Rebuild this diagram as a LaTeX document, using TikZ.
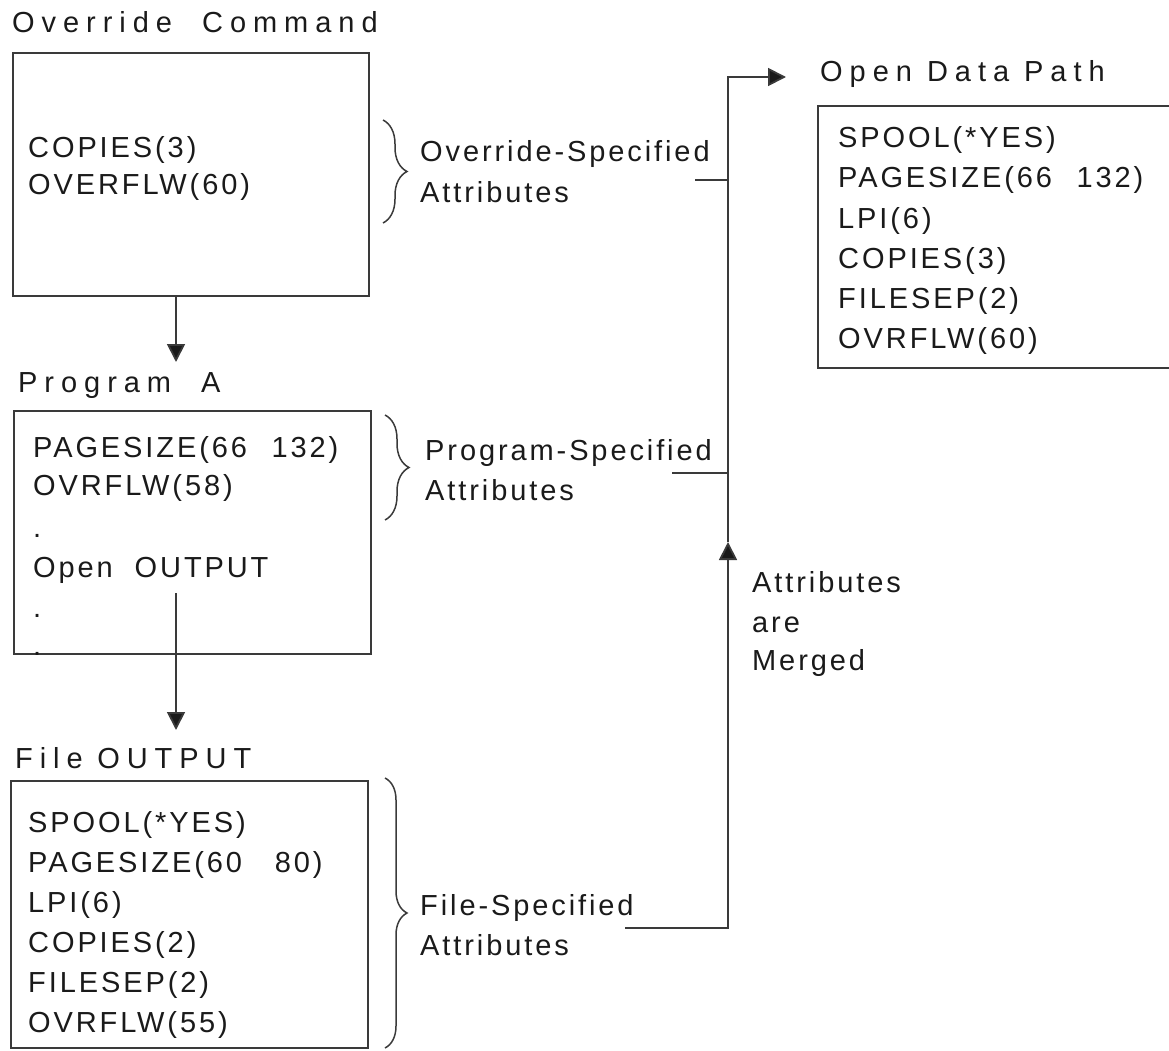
\documentclass[tikz,border=0pt]{standalone}
\usepackage{fontspec}
\setmainfont{Liberation Sans}[LetterSpace=10]
\newfontfamily\titlefont{Liberation Sans}[LetterSpace=24]
\usetikzlibrary{arrows.meta,decorations.pathreplacing}
\definecolor{ink}{HTML}{1A1A1A}
\definecolor{linegray}{HTML}{3A3A3A}
\tikzset{
  txt/.style={anchor=base west, inner sep=0pt, text=ink, font=\fontsize{29}{36}\selectfont},
  ttl/.style={anchor=base west, inner sep=0pt, text=ink, font=\titlefont\fontsize{29}{36}\selectfont},
  box/.style={draw=linegray, line width=2pt, anchor=north west, inner sep=0pt},
  conn/.style={draw=linegray, line width=1.8pt},
  arr/.style={conn, -{Triangle[length=18pt,width=18pt,fill=ink]}},
  brc/.style={draw=linegray, line width=1.5pt, decorate, decoration={brace, amplitude=#1}},
}
\begin{document}
\begin{tikzpicture}[x=1pt,y=-1pt]
\useasboundingbox (0,0) rectangle (1169,1051);
\clip (0,0) rectangle (1169,1051);

% titles
\node[ttl] (t1) at (12,33) {Override\ \ Command};
\node[ttl] (t2) at (18,392) {Program\ \ A};
\node[ttl] (t3) at (15,768) {File\hspace{0.5em}OUTPUT};
\node[ttl] (t4) at (820,82) {Open Data Path};

% boxes
\node[box, minimum width=356pt, minimum height=243pt] (b1) at (12,52) {};
\node[box, minimum width=357pt, minimum height=243pt] (b2) at (13,410) {};
\node[box, minimum width=357pt, minimum height=267pt] (b3) at (10,780) {};
\node[box, minimum width=370pt, minimum height=262pt] (b4) at (817,105) {};

% box 1 text
\node[txt] (o1) at (28,158) {COPIES(3)};
\node[txt] (o2) at (28,195) {OVERFLW(60)};

% box 2 text
\node[txt] (p1) at (33,457) {PAGESIZE(66\hspace{0.85em}132)};
\node[txt] (p2) at (33,495) {OVRFLW(58)};
\node[txt] (p3) at (33,537) {.};
\node[txt] (p4) at (33,577) {Open\ \ OUTPUT};
\node[txt] (p5) at (33,617) {.};
\node[txt] (p6) at (33,655) {.};

% box 3 text
\foreach \t [count=\i] in {SPOOL(*YES),PAGESIZE(60\ \ \ 80),LPI(6),COPIES(2),FILESEP(2),OVRFLW(55)}
  \node[txt] (f\i) at (28,{832+40*(\i-1)}) {\t};

% box 4 text
\foreach \t [count=\i] in {SPOOL(*YES),PAGESIZE(66\hspace{0.85em}132),LPI(6),COPIES(3),FILESEP(2),OVRFLW(60)}
  \node[txt] (d\i) at (838,{148+40*(\i-1)}) {\t};

% braces and labels
\draw[brc=24pt] (383,120) -- (383,223);
\node[txt] (l1a) at (420,162) {Override-Specified};
\node[txt] (l1b) at (420,202) {Attributes};
\draw[brc=24pt] (385,415) -- (385,520);
\node[txt] (l2a) at (425,460) {Program-Specified};
\node[txt] (l2b) at (425,500) {Attributes};
\draw[brc=22pt] (385,778) -- (385,1048);
\node[txt] (l3a) at (420,915) {File-Specified};
\node[txt] (l3b) at (420,955) {Attributes};

\node[txt] (m1) at (752,592) {Attributes};
\node[txt] (m2) at (752,632) {are};
\node[txt] (m3) at (752,670) {Merged};

% connectors
\coordinate (a1s) at (176,295);
\coordinate (a1e) at (176,362);
\draw[arr] (a1s) -- (a1e);
\coordinate (a2s) at (176,593);
\coordinate (a2e) at (176,730);
\draw[arr] (a2s) -- (a2e);

\coordinate (j1) at (695,180);
\coordinate (j2) at (672,473);
\coordinate (j3) at (625,928);
\coordinate (mid) at (728,542);
\coordinate (top) at (728,77);
\coordinate (odp) at (786,77);
\draw[conn] (j1) -- (j1 -| mid);
\draw[conn] (j2) -- (j2 -| mid);
\draw[arr] (j3) -| (mid);
\draw[arr] (mid) -- (top) -- (odp);
\end{tikzpicture}
\end{document}
